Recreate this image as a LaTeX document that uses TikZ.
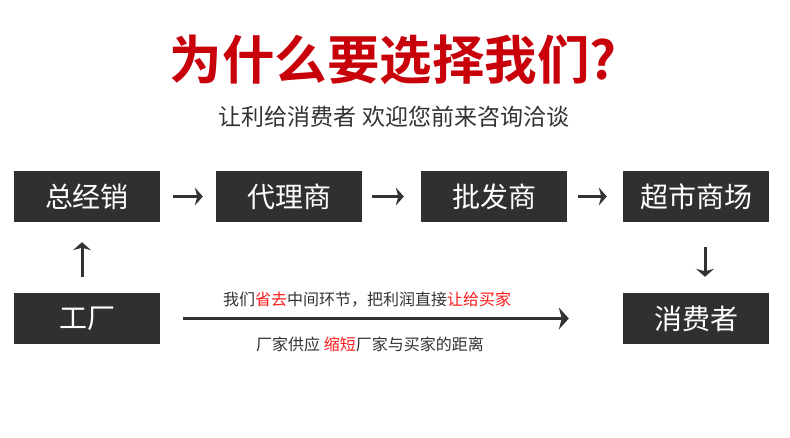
\documentclass[tikz,border=0pt]{standalone}
\usepackage{fontspec}
\usepackage{xcolor}
\usetikzlibrary{arrows.meta,positioning}
\newfontfamily\cjk{Noto Sans CJK SC}[BoldFont={Noto Sans CJK SC Bold}]
\definecolor{titlered}{HTML}{C8000A}
\definecolor{boxgray}{HTML}{303030}
\definecolor{textgray}{HTML}{333333}
\definecolor{hired}{HTML}{FF1A1A}

\begin{document}
\begin{tikzpicture}[x=1pt,y=-1pt,
    stage/.style={fill=boxgray, text=white, minimum width=146pt, minimum height=51pt,
                  inner sep=0pt, font=\cjk\fontsize{28}{28}\selectfont},
    flow/.style={draw=textgray, line width=3pt, -{Stealth[length=8pt,width=18pt,inset=2.5pt]}},
    note/.style={text=textgray, inner sep=0pt, font=\cjk\fontsize{16}{16}\selectfont}]

  % ----- fundo -----
  \fill[white] (0,0) rectangle (790,438);
  \useasboundingbox (0,0) rectangle (790,438);

  % ----- títulos -----
  \node[text=titlered, font=\cjk\bfseries\fontsize{52.5}{52}\selectfont] (title) at (393,60)
    {为什么要选择我们?};
  \node[text=textgray, font=\cjk\fontsize{23}{23}\selectfont] (subtitle) at (394,117)
    {让利给消费者 欢迎您前来咨询洽谈};

  % ----- cadeia tradicional -----
  \node[stage] (dist)    at (87,196.5)  {总经销};
  \node[stage] (agent)   at (289,196.5) {代理商};
  \node[stage] (whole)   at (494,196.5) {批发商};
  \node[stage] (market)  at (696,196.5) {超市商场};
  \node[stage] (factory) at (87,318.5)  {工厂};
  \node[stage] (buyer)   at (696,318.5) {消费者};

  \draw[flow, shorten <=13pt, shorten >=13pt] (dist)   -- (agent);
  \draw[flow, shorten <=10pt, shorten >=17pt] (agent)  -- (whole);
  \draw[flow, shorten <=11pt, shorten >=16pt] (whole)  -- (market);
  \draw[flow, shorten <=16pt, shorten >=20pt]
    ([xshift=-5pt]factory.north) -- ([xshift=-5pt]dist.south);
  \draw[flow, shorten <=25pt, shorten >=16pt]
    ([xshift=9pt]market.south) -- ([xshift=9pt]buyer.north);

  % ----- caminho direto -----
  \draw[draw=textgray, line width=3.3pt, -{Stealth[length=10pt,width=22pt,inset=3pt]},
        shorten <=23pt, shorten >=54pt] (factory) -- (buyer);
  \node[note] (gain) at (367,300)
    {我们\textcolor{hired}{省去}中间环节，把利润直接\textcolor{hired}{让给买家}};
  \node[note] (cut)  at (370,344)
    {厂家供应 \textcolor{hired}{缩短}厂家与买家的距离};

\end{tikzpicture}
\end{document}
